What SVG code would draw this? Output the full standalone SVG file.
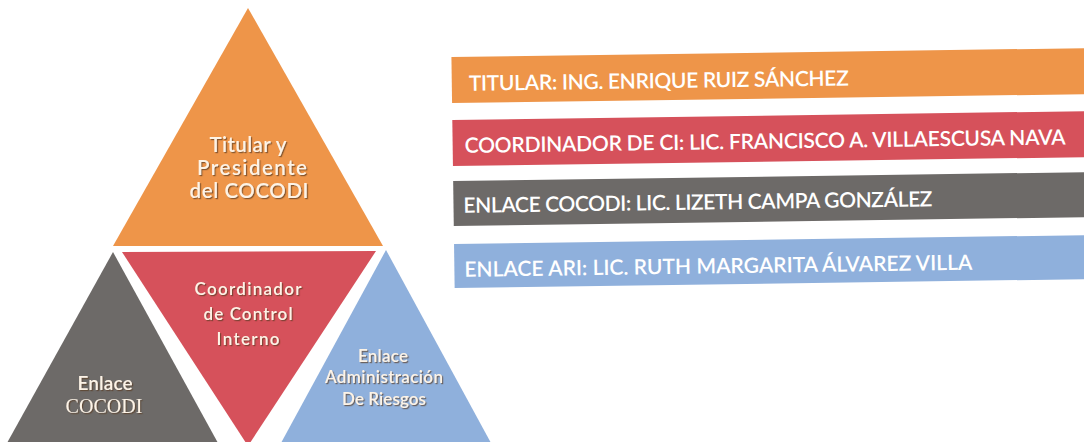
<svg xmlns="http://www.w3.org/2000/svg" width="1084" height="442" viewBox="0 0 1084 442">
  <defs>
    <filter id="shadow" x="-20%" y="-20%" width="140%" height="140%">
      <feDropShadow dx="1.2" dy="1.2" stdDeviation="0.6" flood-color="#5a3a20" flood-opacity="0.7"/>
    </filter>
  </defs>
  <style>
    .tri-t { font-family: Lato, "Open Sans", "Liberation Sans", sans-serif; fill: #fdf3e6; text-anchor: middle; font-weight: 600; }
    .bar-t { font-family: Lato, "Open Sans", "Liberation Sans", sans-serif; font-size: 21px; fill: #ffffff; font-weight: 600; }
    .orange { fill: #EE9549; }
    .red { fill: #D6515B; }
    .grey { fill: #6D6A68; }
    .blue { fill: #8FB0DC; }
  </style>
  <rect width="1084" height="442" fill="#ffffff"/>

  <g id="node-titular">
    <polygon class="orange" points="248,8 383,246 113,246"/>
    <g filter="url(#shadow)">
      <text class="tri-t" x="248" y="152" font-size="20.5" textLength="77">Titular y</text>
      <text class="tri-t" x="252" y="175" font-size="20.5" textLength="110">Presidente</text>
      <text class="tri-t" x="249" y="198" font-size="20.5" textLength="119">del COCODI</text>
    </g>
  </g>

  <g id="node-coordinador">
    <polygon class="red" points="122,252 376,251 248,446"/>
    <g filter="url(#shadow)">
      <text class="tri-t" x="248" y="295" font-size="17" textLength="107">Coordinador</text>
      <text class="tri-t" x="248" y="320" font-size="17" textLength="89">de Control</text>
      <text class="tri-t" x="248" y="345" font-size="17" textLength="63">Interno</text>
    </g>
  </g>

  <g id="node-enlace-cocodi">
    <polygon class="grey" points="113,252 218,443 7,443"/>
    <g filter="url(#shadow)">
      <text class="tri-t" x="105" y="390" font-size="19" font-weight="bold" textLength="55">Enlace</text>
      <text class="tri-t" x="104" y="413" font-size="20" style="font-family: 'Liberation Serif', serif; font-weight: normal;" textLength="77">COCODI</text>
    </g>
  </g>

  <g id="node-enlace-ari">
    <polygon class="blue" points="386,250 491,443 281,443"/>
    <g filter="url(#shadow)">
      <text class="tri-t" x="383" y="362" font-size="17" font-weight="bold" textLength="50">Enlace</text>
      <text class="tri-t" x="384" y="383" font-size="17" font-weight="bold" textLength="118">Administración</text>
      <text class="tri-t" x="384" y="405" font-size="17" font-weight="bold" textLength="84">De Riesgos</text>
    </g>
  </g>

  <g id="legend" transform="rotate(-0.8 453 170)">
    <g id="bar-titular">
      <rect class="orange" x="453" y="57" width="660" height="46"/>
      <text class="bar-t" x="470" y="91" textLength="380">TITULAR: ING. ENRIQUE RUIZ SÁNCHEZ</text>
    </g>
    <g id="bar-coordinador">
      <rect class="red" x="453" y="120" width="660" height="46"/>
      <text class="bar-t" x="465" y="153" textLength="601">COORDINADOR DE CI: LIC. FRANCISCO A. VILLAESCUSA NAVA</text>
    </g>
    <g id="bar-enlace-cocodi">
      <rect class="grey" x="453" y="181" width="660" height="45"/>
      <text class="bar-t" x="463" y="213" textLength="469">ENLACE COCODI: LIC. LIZETH CAMPA GONZÁLEZ</text>
    </g>
    <g id="bar-enlace-ari">
      <rect class="blue" x="453" y="244" width="660" height="44"/>
      <text class="bar-t" x="463" y="277" textLength="508">ENLACE ARI: LIC. RUTH MARGARITA ÁLVAREZ VILLA</text>
    </g>
  </g>
</svg>
